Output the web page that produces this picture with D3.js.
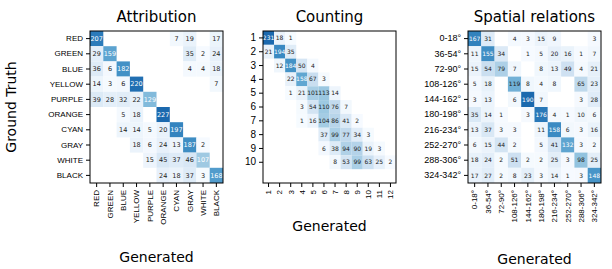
<!DOCTYPE html>
<html>
<head>
<meta charset="utf-8">
<script src="https://cdn.jsdelivr.net/npm/d3@7.9.0/dist/d3.min.js"></script>
<style>
  body { margin: 0; background: #fff; }
  svg { font-family: "DejaVu Sans", sans-serif; }
</style>
</head>
<body>
<svg id="chart" width="612" height="269"></svg>
<script>
// ---- data ----
const colorLabels = ['RED', 'GREEN', 'BLUE', 'YELLOW', 'PURPLE', 'ORANGE', 'CYAN', 'GRAY', 'WHITE', 'BLACK'];
const attribution = [
  [207, 0, 0, 0, 0, 0, 7, 19, 0, 17],
  [29, 159, 0, 0, 0, 0, 0, 35, 2, 24],
  [36, 6, 182, 0, 0, 0, 0, 4, 4, 18],
  [14, 3, 6, 220, 0, 0, 0, 0, 0, 7],
  [39, 28, 32, 22, 129, 0, 0, 0, 0, 0],
  [0, 0, 5, 18, 0, 227, 0, 0, 0, 0],
  [0, 0, 14, 14, 5, 20, 197, 0, 0, 0],
  [0, 0, 0, 18, 6, 24, 13, 187, 2, 0],
  [0, 0, 0, 0, 15, 45, 37, 46, 107, 0],
  [0, 0, 0, 0, 0, 24, 18, 37, 3, 168]
];

const countRowLabels = ['1', '2', '3', '4', '5', '6', '7', '8', '9', '10'];
const countColLabels = ['1', '2', '3', '4', '5', '6', '7', '8', '9', '10', '11', '12'];
const counting = [
  [231, 18, 1, 0, 0, 0, 0, 0, 0, 0, 0, 0],
  [21, 194, 35, 0, 0, 0, 0, 0, 0, 0, 0, 0],
  [0, 12, 184, 50, 4, 0, 0, 0, 0, 0, 0, 0],
  [0, 0, 22, 158, 67, 3, 0, 0, 0, 0, 0, 0],
  [0, 0, 1, 21, 101, 113, 14, 0, 0, 0, 0, 0],
  [0, 0, 0, 3, 54, 110, 76, 7, 0, 0, 0, 0],
  [0, 0, 0, 1, 16, 104, 86, 41, 2, 0, 0, 0],
  [0, 0, 0, 0, 0, 37, 99, 77, 34, 3, 0, 0],
  [0, 0, 0, 0, 0, 6, 38, 94, 90, 19, 3, 0],
  [0, 0, 0, 0, 0, 0, 8, 53, 99, 63, 25, 2],
  [0, 0, 0, 0, 0, 0, 0, 0, 0, 0, 0, 0]
];

const angleLabels = ['0-18°', '36-54°', '72-90°', '108-126°', '144-162°', '180-198°', '216-234°', '252-270°', '288-306°', '324-342°'];
const spatial = [
  [167, 31, 0, 4, 3, 15, 9, 0, 0, 3],
  [11, 155, 34, 0, 1, 5, 20, 16, 1, 7],
  [15, 54, 79, 7, 0, 8, 13, 49, 4, 21],
  [5, 18, 0, 119, 8, 4, 8, 0, 65, 23],
  [3, 13, 0, 6, 190, 7, 0, 0, 3, 28],
  [35, 14, 1, 0, 3, 176, 4, 1, 10, 6],
  [13, 37, 3, 3, 0, 11, 158, 6, 3, 16],
  [6, 15, 44, 2, 0, 5, 41, 132, 3, 2],
  [18, 24, 2, 51, 2, 2, 25, 3, 98, 25],
  [17, 27, 2, 8, 23, 3, 14, 1, 3, 148]
];

const svg = d3.select('#chart');
const plotTop = 31, plotBottom = 183;

function renderPanel(opts) {
  const { title, matrix, rowLabels, colLabels, left, right, annotSize, tickSize, whiteAbove } = opts;
  const nRows = matrix.length;
  const nCols = matrix[0].length;

  const x = d3.scaleBand().domain(d3.range(nCols)).range([left, right]);
  const y = d3.scaleBand().domain(d3.range(nRows)).range([plotTop, plotBottom]);
  const vmax = d3.max(matrix.flat());
  const color = d3.scaleSequential(d3.interpolateBlues).domain([0, vmax * 1.28]);

  const cells = [];
  matrix.forEach((row, i) => row.forEach((v, j) => { if (v > 0) cells.push({ i, j, v }); }));

  const g = svg.append('g');

  g.selectAll('rect.cell')
    .data(cells)
    .join('rect')
    .attr('class', 'cell')
    .attr('x', d => x(d.j))
    .attr('y', d => y(d.i))
    .attr('width', x.bandwidth())
    .attr('height', y.bandwidth())
    .attr('fill', d => color(d.v));

  g.selectAll('text.annot')
    .data(cells)
    .join('text')
    .attr('class', 'annot')
    .attr('x', d => x(d.j) + x.bandwidth() / 2)
    .attr('y', d => y(d.i) + y.bandwidth() / 2)
    .attr('dy', '0.35em')
    .attr('text-anchor', 'middle')
    .style('font-size', annotSize + 'px')
    .attr('fill', d => d.v > whiteAbove ? '#fff' : '#222')
    .text(d => d.v);

  // frame
  g.append('rect')
    .attr('x', left).attr('y', plotTop)
    .attr('width', right - left).attr('height', plotBottom - plotTop)
    .attr('fill', 'none').attr('stroke', '#000').attr('stroke-width', 1);

  // y axis
  const yAxis = g.append('g')
    .attr('transform', `translate(${left},0)`)
    .call(d3.axisLeft(y)
      .tickValues(d3.range(rowLabels.length))
      .tickSize(4).tickPadding(3)
      .tickFormat(i => rowLabels[i]));
  yAxis.select('.domain').remove();
  yAxis.selectAll('text').style('font-size', tickSize.y + 'px').attr('fill', '#000');

  // x axis, rotated labels
  const xAxis = g.append('g')
    .attr('transform', `translate(0,${plotBottom})`)
    .call(d3.axisBottom(x).tickSize(4).tickFormat(j => colLabels[j]));
  xAxis.select('.domain').remove();
  xAxis.selectAll('text')
    .attr('transform', 'rotate(-90)')
    .attr('text-anchor', 'end')
    .attr('x', -7)
    .attr('y', 0)
    .attr('dy', '0.35em')
    .style('font-size', tickSize.x + 'px')
    .attr('fill', '#000');

  g.append('text')
    .attr('x', (left + right) / 2)
    .attr('y', 22)
    .attr('text-anchor', 'middle')
    .style('font-size', '15px')
    .text(title);

  g.append('text')
    .attr('x', (left + right) / 2)
    .attr('y', opts.xLabelY)
    .attr('text-anchor', 'middle')
    .style('font-size', '14px')
    .text('Generated');
}

renderPanel({
  title: 'Attribution', matrix: attribution, rowLabels: colorLabels, colLabels: colorLabels,
  left: 90, right: 223, annotSize: 6.5, tickSize: { x: 8, y: 8 }, whiteAbove: 100, xLabelY: 262
});
renderPanel({
  title: 'Counting', matrix: counting, rowLabels: countRowLabels, colLabels: countColLabels,
  left: 263, right: 396, annotSize: 6, tickSize: { x: 8, y: 10 }, whiteAbove: 150, xLabelY: 231
});
renderPanel({
  title: 'Spatial relations', matrix: spatial, rowLabels: angleLabels, colLabels: angleLabels,
  left: 468, right: 601, annotSize: 6, tickSize: { x: 8, y: 9 }, whiteAbove: 125, xLabelY: 264
});

svg.append('text')
  .attr('transform', `translate(16,${(plotTop + plotBottom) / 2}) rotate(-90)`)
  .attr('text-anchor', 'middle')
  .style('font-size', '14px')
  .text('Ground Truth');
</script>
</body>
</html>
